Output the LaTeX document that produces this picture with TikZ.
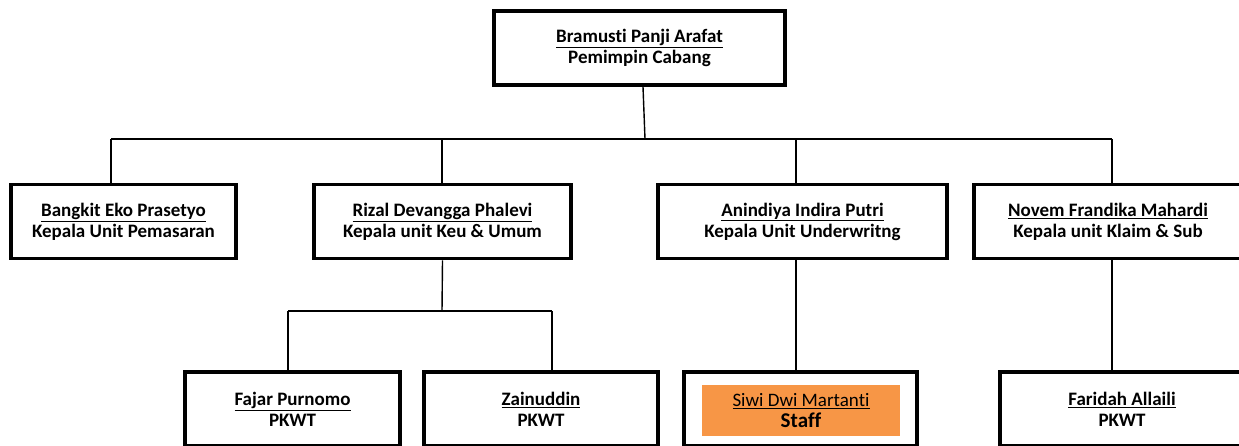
\documentclass[tikz,border=0pt]{standalone}
\usepackage{fontspec}
\setmainfont{Carlito}[Ligatures=NoCommon]
\usetikzlibrary{positioning}
\definecolor{stafforange}{HTML}{F79646}

\begin{document}
\begin{tikzpicture}[
				x = 1pt, y = -1pt, % one unit per pixel, going down
				semithick, % line style
				font = \bfseries\fontsize{19}{21}\selectfont
			]
			
			\tikzstyle{every node}=[align = center]
			\tikzstyle{unit}=[
			draw = black,
			line width = 3.6pt,
			fill = white,
			inner sep = 0pt,
			minimum height = 74pt
			]
			\tikzstyle{link}=[draw = black, line width = 1.4pt]
			
			\useasboundingbox (0,0) rectangle (1239,446);
			\clip (0,0) rectangle (1239,446);
			
			% joints of the connectors
			\coordinate (hub) at (645,139);
			\coordinate (barL) at (111,139);
			\coordinate (barR) at (1112,139);
			\coordinate (jR) at (442,139);
			\coordinate (jA) at (796,139);
			\coordinate (subL) at (288,311);
			\coordinate (subM) at (442,311);
			\coordinate (subR) at (552,311);
			
			\node[unit, minimum width = 291pt] (pc) at (639.5,48) {\underline{Bramusti Panji Arafat}\\Pemimpin Cabang};
			
			\node[unit, minimum width = 225pt] (bangkit) at (123.5,221.5) {\underline{Bangkit Eko Prasetyo}\\Kepala Unit Pemasaran};
			\node[unit, minimum width = 257pt] (rizal) at (442.5,221.5) {\underline{Rizal Devangga Phalevi}\\Kepala unit Keu \& Umum};
			\node[unit, minimum width = 289pt] (anindiya) at (802.5,221.5) {\underline{Anindiya Indira Putri}\\Kepala Unit Underwritng};
			\node[unit, minimum width = 268pt] (novem) at (1108,221.5) {\underline{Novem Frandika Mahardi}\\Kepala unit Klaim \& Sub};
			
			\node[unit, minimum width = 215pt] (fajar) at (292.5,409) {\underline{Fajar Purnomo}\\PKWT};
			\node[unit, minimum width = 234pt] (zain) at (541,409) {\underline{Zainuddin}\\PKWT};
			\node[unit, minimum width = 233pt] (siwi) at (800.5,409) {};
			\node[fill = stafforange, minimum width = 198pt, minimum height = 51pt, inner sep = 0pt] (siwibox) at (801,410.5) {{\mdseries\underline{Siwi Dwi Martanti}}\\{\fontsize{21}{22}\selectfont Staff}};
			\node[unit, minimum width = 244pt] (faridah) at (1122,409) {\underline{Faridah Allaili}\\PKWT};
			
			\draw[link] ([xshift=3.5pt]pc.south) -- (hub);
			\draw[link] (barL) -- (barR);
			\draw[link] (barL) -- (barL |- bangkit.north);
			\draw[link] (jR) -- (jR |- rizal.north);
			\draw[link] (jA) -- (jA |- anindiya.north);
			\draw[link] (barR) -- (barR |- novem.north);
			
			\draw[link] (rizal.south) -- (subM);
			\draw[link] (subL) -- (subR);
			\draw[link] (subL) -- (subL |- fajar.north);
			\draw[link] (subR) -- (subR |- zain.north);
			
			\draw[link] (anindiya.south -| jA) -- (jA |- siwi.north);
			\draw[link] (novem.south -| barR) -- (barR |- faridah.north);
		\end{tikzpicture}
\end{document}
